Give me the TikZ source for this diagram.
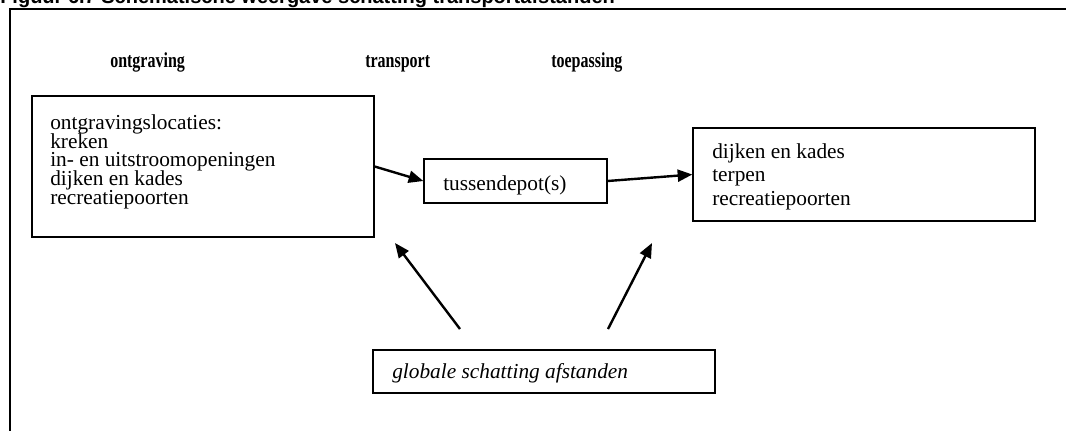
\documentclass[tikz,border=0pt]{standalone}
\usepackage{fontspec}
\setmainfont{Liberation Serif}
\setsansfont{Liberation Sans}
\newfontfamily\headfont{Liberation Serif}[FakeStretch=0.75]
\usetikzlibrary{arrows.meta,fit}
\setlength{\lineskiplimit}{-20pt}

\begin{document}
\begin{tikzpicture}[x=0.75pt,y=-0.75pt,
  box/.style={draw,line width=1pt,inner sep=0pt},
  body/.style={inner sep=0pt,anchor=base west,align=left,
    font=\fontsize{16}{13.9}\selectfont},
  head/.style={inner sep=0pt,anchor=base west,
    font=\headfont\bfseries\fontsize{16}{19}\selectfont},
  arr/.style={line width=1.8pt,-{Triangle[length=11pt,width=9pt]}},
]
\useasboundingbox (0,0) rectangle (1066,430);

% caption above the frame
\node[inner sep=0pt,anchor=base west,
  font=\sffamily\bfseries\fontsize{15}{18}\selectfont] (title) at (0,3)
  {Figuur 6.7 Schematische weergave schatting transportafstanden};

% outer frame
\draw[line width=1.3pt] (10,440) -- (10,9) -- (1076,9);

% column headings
\node[head] (hsrc) at (110,67) {ontgraving};
\node[head] (htr)  at (365,67) {transport};
\node[head] (happ) at (551,67) {toepassing};

% boxes (multi-line texts are anchored at the baseline of their last line)
\node[box,fit={(32,96) (374,237)}] (src) {};
\node[body] (srctext) at (50,204)
  {ontgravingslocaties:\\kreken\\in- en uitstroomopeningen\\dijken en kades\\recreatiepoorten};

\node[box,fit={(424,159) (607,203)}] (mid) {};
\node[body] (midtext) at (443,190) {tussendepot(s)};

\node[box,fit={(693,128) (1035,221)}] (app) {};
\node[body,font=\fontsize{16}{17.6}\selectfont] (apptext) at (712,205)
  {dijken en kades\\terpen\\recreatiepoorten};

\node[box,fit={(373,350) (715,393)}] (est) {};
\node[body,font=\itshape\fontsize{16}{19}\selectfont] (esttext) at (392,378)
  {globale schatting afstanden};

% flow arrows
\draw[arr] (src.east) -- (mid.west);
\draw[arr] (mid.east) -- (app.west);

% estimate arrows
\coordinate (e1tail) at (460,329);
\coordinate (e1tip)  at (395,243);
\coordinate (e2tail) at (608,329);
\coordinate (e2tip)  at (652,243);
\draw[arr] (e1tail) -- (e1tip);
\draw[arr] (e2tail) -- (e2tip);
\end{tikzpicture}
\end{document}
